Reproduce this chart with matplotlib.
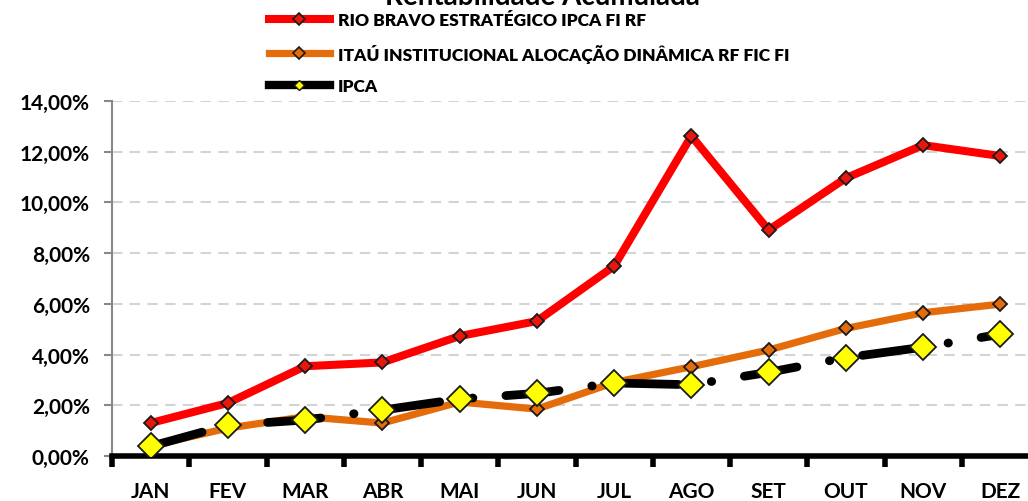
import matplotlib
matplotlib.use("Agg")
import matplotlib.pyplot as plt
from matplotlib.lines import Line2D
from matplotlib.ticker import FuncFormatter, MultipleLocator
import numpy as np

# Rentabilidade acumulada (%) por mes
meses = ["JAN", "FEV", "MAR", "ABR", "MAI", "JUN", "JUL", "AGO", "SET", "OUT", "NOV", "DEZ"]
rio_bravo = [1.30, 2.09, 3.54, 3.69, 4.73, 5.32, 7.49, 12.62, 8.91, 10.96, 12.26, 11.83]
itau = [0.40, 1.10, 1.55, 1.30, 2.13, 1.85, 2.90, 3.52, 4.18, 5.03, 5.65, 5.99]
ipca = [0.38, 1.22, 1.42, 1.81, 2.25, 2.47, 2.88, 2.81, 3.30, 3.88, 4.29, 4.80]

nomes = ["RIO BRAVO ESTRATÉGICO IPCA FI RF",
         "ITAÚ INSTITUCIONAL ALOCAÇÃO DINÂMICA RF FIC FI",
         "IPCA"]

plt.rcParams['font.family'] = ['Lato', 'DejaVu Sans']
plt.rcParams['font.weight'] = 'bold'

fig = plt.figure(figsize=(10.28, 5.02), dpi=100)
ax = fig.add_axes([112/1028, 45/502, 927/1028, 355/502])

x = np.arange(len(meses))

ax.plot(x, rio_bravo, color="#ff0000", lw=5.8, marker="D", ms=7,
        mfc="#e8170c", mec="#1a1a1a", mew=1.3, solid_capstyle="round", zorder=4)
ax.plot(x, itau, color="#e46c0a", lw=5.2, marker="D", ms=7,
        mfc="#e46c0a", mec="#1a1a1a", mew=1.3, solid_capstyle="round", zorder=3)
ax.plot(x, ipca, color="black", lw=6.3, linestyle=(0, (6.1, 3.78, 0.05, 3.78)),
        dash_capstyle="round", marker="D", ms=13, mfc="#ffff00",
        mec="#1a1a1a", mew=1.3, zorder=5)

ax.set_xlim(-0.5, 11.5)
ax.set_ylim(0, 14)
ax.yaxis.set_major_locator(MultipleLocator(2))
ax.yaxis.set_major_formatter(FuncFormatter(lambda v, p: ("%.2f%%" % v).replace(".", ",")))

ax.grid(axis="y", color="#d4d4d4", lw=1.5, linestyle=(0, (5, 3.5)))
ax.set_axisbelow(True)

# ticks nos limites das categorias, rotulos no centro
ax.set_xticks(np.arange(-0.5, 12, 1))
ax.set_xticklabels([])
ax.set_xticks(x, minor=True)
ax.set_xticklabels(meses, minor=True)
ax.tick_params(axis="x", which="major", length=8, width=4, color="black", direction="out")
ax.tick_params(axis="x", which="minor", length=0, pad=18, labelsize=15)
ax.tick_params(axis="y", length=6, width=1.5, color="#888888", pad=10, labelsize=15)

for s in ["top", "right"]:
    ax.spines[s].set_visible(False)
ax.spines["bottom"].set_linewidth(4)
ax.spines["bottom"].set_color("black")
ax.spines["left"].set_linewidth(1.5)
ax.spines["left"].set_color("#888888")

fig.text(0.528, 1 - 5/502, "Rentabilidade Acumulada", ha="center", va="baseline",
         fontsize=20, fontweight="bold")

handles = [
    Line2D([], [], color="#ff0000", lw=5.8, marker="D", ms=6, mfc="#e8170c", mec="#1a1a1a", mew=1.2),
    Line2D([], [], color="#e46c0a", lw=5.2, marker="D", ms=6, mfc="#e46c0a", mec="#1a1a1a", mew=1.2),
    Line2D([], [], color="black", lw=6, marker="D", ms=5, mfc="#ffff00", mec="#1a1a1a", mew=1.0),
]
fig.legend(handles, nomes, loc="upper left", bbox_to_anchor=(262/1028, 1 - 6/502),
           frameon=False, prop={"size": 12.5, "weight": "heavy", "family": ["Lato", "DejaVu Sans"]},
           handlelength=3.5, handletextpad=0.45, labelspacing=0.9, borderaxespad=0)

fig.savefig("out.png", dpi=100)
